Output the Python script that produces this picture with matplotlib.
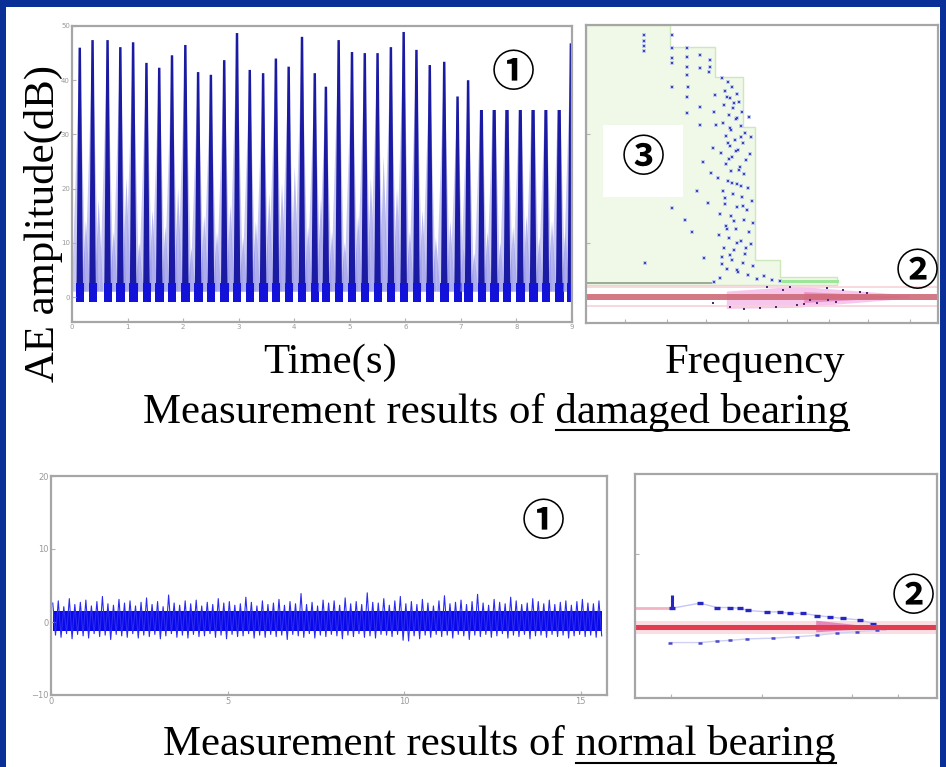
import numpy as np
import matplotlib
matplotlib.use('Agg')
import matplotlib.pyplot as plt
from matplotlib.patches import Rectangle, Polygon
from matplotlib.lines import Line2D

W, H = 946, 767

# damaged bearing, time signal: burst times (s), peak amplitude and lighter decay lobe (dB)
spike_t = [0.14, 0.37, 0.64, 0.87, 1.10, 1.34, 1.57, 1.80, 2.04, 2.27,
           2.50, 2.74, 2.97, 3.20, 3.44, 3.67, 3.90, 4.14, 4.37, 4.57,
           4.80, 5.04, 5.27, 5.50, 5.74, 5.97, 6.20, 6.44, 6.70, 6.94,
           7.13, 7.37, 7.60, 7.83, 8.07, 8.30, 8.53, 8.77, 8.98]
spike_h = [46.0, 47.4, 47.4, 46.1, 47.0, 43.2, 42.3, 44.6, 46.5, 41.5,
           41.0, 43.7, 48.7, 41.9, 41.3, 44.0, 42.5, 48.0, 41.3, 38.8,
           47.4, 45.2, 45.0, 45.0, 46.1, 48.9, 45.6, 42.8, 43.4, 37.0,
           40.0, 40.0, 42.0, 44.0, 41.0, 43.0, 40.0, 42.0, 46.8]
echo_h = [14, 18, 12, 22, 10, 16, 13, 20, 9, 15,
          12, 17, 11, 14, 19, 21, 24, 13, 18, 12,
          10, 15, 22, 26, 20, 12, 16, 11, 14, 9,
          8, 12, 10, 13, 15, 11, 14, 12, 16]

# damaged bearing, frequency plot: scattered AE hits
freq_x = [16.5, 16.5, 16.5, 16.6, 24.4, 24.4, 24.5, 24.3, 24.4,
          28.7, 28.8, 28.6, 28.7, 28.9, 28.7, 28.8, 32.4, 32.5, 32.3, 32.4,
          35.2, 35.3, 34.9, 36.6, 36.4, 36.8,
          38.6, 40.2, 41.5, 39.4, 42.8, 40.9, 43.6, 39.1, 41.8, 44.2,
          40.5, 42.6, 38.9, 43.9, 41.2, 45.1, 39.7, 42.3, 44.6, 40.8,
          43.2, 38.4, 41.6, 45.4, 39.9, 43.7, 41.1, 44.8,
          37.5, 40.3, 42.9, 46.1, 38.8, 41.7, 44.4, 47.2, 39.6, 43.0,
          45.7, 38.1, 41.2, 44.9, 47.5, 39.9, 42.6, 46.3, 37.8, 40.7,
          44.0, 46.9, 39.2, 42.1, 45.3, 38.5, 41.4, 44.6, 47.4, 40.0,
          43.3, 46.0, 38.0, 48.5,
          24.4, 16.8, 28.0, 30.2, 33.6, 34.7, 31.5, 35.5, 33.2, 36.0,
          46.3, 47.0, 46.5, 50.5, 52.8, 55.0, 36.5,
          40.0, 42.0, 43.0, 41.0, 44.0, 42.5, 40.5, 43.5, 41.5, 39.5,
          44.5, 42.0, 40.0, 43.0, 45.5, 41.0, 38.5, 42.8, 44.0, 40.2]
freq_y = [48.3, 47.2, 46.3, 45.4, 48.3, 45.9, 44.1, 43.2, 38.7,
          45.9, 44.3, 42.4, 41.0, 38.7, 36.9, 33.9, 44.6, 42.3, 35.1, 31.7,
          43.7, 42.4, 41.5, 37.3, 34.1, 31.7,
          40.4, 39.6, 38.8, 38.1, 37.5, 36.7, 36.0, 35.4, 34.8, 34.1,
          33.5, 32.9, 32.2, 31.6, 30.9, 30.3, 29.7, 29.0, 28.4, 27.8,
          27.1, 26.5, 25.9, 25.2, 24.6, 24.0, 23.3, 22.7,
          21.9, 21.4, 20.8, 20.2, 19.5, 19.0, 18.4, 17.8, 17.1, 16.6,
          16.0, 15.4, 14.9, 14.3, 13.7, 13.1, 12.6, 12.0, 11.4, 10.9,
          10.3, 9.7, 9.1, 8.6, 8.0, 7.4, 6.9, 6.3, 5.7, 5.1,
          4.6, 4.0, 3.5, 3.3,
          16.4, 6.3, 14.2, 12.0, 7.2, 17.3, 19.6, 22.8, 25.0, 27.5,
          33.2, 29.6, 26.3, 3.9, 3.2, 2.9, 2.8,
          37.0, 35.8, 33.0, 31.2, 29.5, 27.0, 25.5, 23.5, 21.0, 18.2,
          16.8, 14.0, 12.5, 10.0, 9.0, 7.8, 6.0, 5.0, 20.5, 28.5]
wedge_dot_x = [36.0, 40.9, 49.4, 59.9, 63.6, 65.6, 68.8, 51.4, 56.0,
               58.0, 68.5, 73.0, 77.8, 79.8, 45.0, 54.0, 62.0, 71.0]
wedge_dot_y = [-1.1, -1.8, -2.0, -1.5, -0.6, -1.1, -0.6, 1.8, 1.3,
               1.8, 1.7, 1.3, 0.9, 0.7, -2.3, -1.9, -1.3, -0.9]
zone_x = [0, 23.9, 23.9, 36.6, 36.6, 44.6, 44.6, 48.0, 48.0, 55.1, 55.1, 71.3, 71.3, 0]
zone_y = [50.2, 50.2, 46.1, 46.1, 40.6, 40.6, 31.4, 31.4, 6.8, 6.8, 3.7, 3.7, 2.2, 2.2]
wedge_x = [40, 60, 92, 92, 60, 40]
wedge_y = [1.0, 1.9, 0.3, -0.3, -2.0, -2.2]

# normal bearing, time signal envelope (dB)
noise_top = [2.6, 2.9, 2.1, 3.2, 2.4, 2.7, 3.0, 2.2, 2.8, 3.5,
             2.5, 2.3, 3.1, 2.6, 2.9, 2.2, 2.7, 3.3, 2.4, 2.8,
             2.1, 3.7, 2.6, 2.3, 2.9, 2.5, 3.0, 2.2, 2.7, 2.4,
             3.2, 2.6, 2.8, 2.3, 2.5, 3.4, 2.7, 2.2, 2.9, 2.4,
             2.6, 3.1, 2.3, 2.8, 2.5, 3.9, 2.4, 2.7, 2.2, 3.0,
             2.6, 2.9, 2.3, 3.3, 2.5, 2.8, 2.4, 4.0, 2.7, 2.6,
             3.2, 2.3, 2.9, 3.5, 2.5, 2.8, 2.4, 3.1, 2.6, 2.2,
             2.9, 3.6, 2.5, 2.7, 3.0, 2.4, 2.8, 3.8, 2.6, 2.3,
             3.1, 2.7, 2.5, 3.4, 2.9, 2.4, 2.6, 3.2, 2.8, 2.5,
             3.0, 2.4, 2.7, 2.9, 2.3, 2.8, 3.1, 2.6, 2.5, 2.9]
noise_bot = [-1.8, -2.1, -1.6, -2.3, -1.7, -1.9, -2.2, -1.6, -2.0, -1.8,
             -2.4, -1.7, -1.9, -2.1, -1.6, -2.2, -1.8, -2.0, -1.7, -2.3,
             -1.9, -1.6, -2.1, -1.8, -2.2, -1.7, -2.0, -1.9, -1.6, -2.1,
             -1.8, -2.3, -1.7, -2.0, -1.9, -1.6, -2.2, -1.8, -2.1, -1.7,
             -2.0, -1.8, -2.4, -1.7, -1.9, -2.1, -1.6, -2.2, -1.8, -2.0,
             -1.7, -1.9, -2.3, -1.8, -2.0, -1.6, -2.1, -1.9, -2.2, -1.7,
             -1.8, -2.0, -1.7, -2.5, -2.6, -1.9, -2.3, -1.8, -2.1, -1.7,
             -2.0, -1.8, -2.2, -1.7, -1.9, -2.4, -1.8, -2.0, -1.7, -2.1,
             -1.9, -1.6, -2.2, -1.8, -2.0, -1.7, -2.3, -1.9, -1.8, -2.1,
             -1.7, -2.0, -1.8, -2.2, -1.9, -1.7, -2.0, -1.8, -2.1, -1.9]

# normal bearing, frequency plot: upper and lower arms
arm_up_x = [12.2, 21.5, 27.2, 31.5, 34.8, 37.4, 43.7, 48.0, 51.3, 55.6,
            60.3, 64.6, 68.9, 74.5, 78.8, 82.1]
arm_up_y = [2.6, 3.3, 2.7, 2.7, 2.6, 2.3, 2.1, 2.1, 1.9, 1.9,
            1.6, 1.4, 1.2, 1.0, 0.5, -0.1]
arm_lo_x = [11.6, 21.5, 27.2, 31.5, 37.1, 45.7, 53.6, 60.3, 66.9, 73.5, 80.1]
arm_lo_y = [-2.1, -2.1, -1.9, -1.8, -1.6, -1.5, -1.3, -1.1, -0.8, -0.6, -0.4]

SERIF = 'Liberation Serif'
CIRC = ['Noto Sans CJK JP', 'DejaVu Sans']
FS = 30.8

fig = plt.figure(figsize=(W / 100, H / 100), dpi=100)
fig.patch.set_facecolor('#0a2f96')
fig.add_artist(Rectangle((6 / W, 0), 934 / W, 1 - 7 / H, transform=fig.transFigure,
                         facecolor='white', edgecolor='none', zorder=-5))


def px_axes(l, t, r, b):
    ax = fig.add_axes([l / W, 1 - b / H, (r - l) / W, (b - t) / H])
    ax.set_zorder(1)
    for sp in ax.spines.values():
        sp.set_color('#a6a6a6')
        sp.set_linewidth(1.6)
    ax.tick_params(direction='in', length=3, width=0.8, colors='#b4b4b4',
                   labelsize=5, pad=1.5, labelcolor='#9a9a9a')
    return ax


def fx(x):
    return x / W


def fy(y):
    return 1 - y / H


# top left: damaged bearing time signal
ax1 = px_axes(72, 26, 572, 322)
ax1.set_xlim(0, 9)
ax1.set_ylim(-4.6, 50)
ax1.set_xticks(range(10))
ax1.set_yticks([0, 10, 20, 30, 40, 50])
for t, h, e in zip(spike_t, spike_h, echo_h):
    ax1.fill([t - 0.14, t, t + 0.11], [1, h, 1], color='#a6a6ee', alpha=0.6, lw=0)
    ax1.fill([t + 0.04, t + 0.11, t + 0.19], [1, e, 1], color='#8080e4', alpha=0.55, lw=0)
    ax1.fill([t - 0.06, t - 0.022, t + 0.022, t + 0.06], [0, h, h, 0],
             color='#1a1aa2', lw=0)
    ax1.add_patch(Rectangle((t - 0.07, -1.0), 0.15, 3.6, color='#1212d8', lw=0))
ax1.add_patch(Rectangle((7.27, 34.5), 1.6, 14.2, facecolor='white', edgecolor='none', zorder=5))

# top right: damaged bearing frequency plot
ax2 = px_axes(586, 25, 938, 323)
ax2.set_xlim(0, 100)
ax2.set_ylim(-4.8, 50.2)
ax2.set_xticks([11, 23, 34, 46, 57, 69, 80, 92])
ax2.set_yticks([10, 30])
ax2.set_xticklabels([])
ax2.set_yticklabels([])
ax2.add_patch(Polygon(list(zip(zone_x, zone_y)), closed=True, facecolor='#f0f8e8',
                      edgecolor='#cde8bb', lw=1.0))
ax2.plot([0, 36.6], [2.6, 2.6], color='#96a48e', lw=1.3)
ax2.plot([55.1, 71.3], [3.0, 3.0], color='#9ee69a', lw=2.2)
ax2.axhline(1.8, color='#f7d2da', lw=1.2)
ax2.axhline(-1.6, color='#f7d2da', lw=1.2)
ax2.add_patch(Polygon(list(zip(wedge_x, wedge_y)), closed=True, facecolor='#f4b4e6',
                      edgecolor='none', alpha=0.75))
ax2.fill([62, 92, 62], [0.9, 0.0, -1.1], color='#e0589e', alpha=0.5, lw=0)
ax2.axhline(0, color='#cf6a78', lw=4.3, alpha=0.9)
ax2.scatter(freq_x, freq_y, s=10, marker='s', color='#c0caf2', lw=0, zorder=3)
ax2.scatter(freq_x, freq_y, s=3, marker='s', color='#3a4aae', lw=0, zorder=4)
ax2.scatter(wedge_dot_x, wedge_dot_y, s=3, marker='s', color='#4a2a7a', lw=0, zorder=4)
ax2.add_patch(Rectangle((4.8, 18.5), 22.8, 13.2, facecolor='white', edgecolor='none', zorder=5))

# bottom left: normal bearing time signal
ax3 = px_axes(51, 476, 607, 695)
ax3.set_xlim(0, 15.75)
ax3.set_ylim(-10, 20)
ax3.set_xticks([0, 5, 10, 15])
ax3.set_yticks([-10, 0, 10, 20])
ax3.tick_params(labelsize=6)
zig = np.ravel(np.column_stack([noise_top, noise_bot]))
t_zig = np.linspace(0.05, 15.6, len(zig))
ax3.fill_between([0.05, 15.6], -1.3, 1.5, color='#0808ea', lw=0)
ax3.plot(t_zig, zig, color='#2a2af0', lw=0.8)

# bottom right: normal bearing frequency plot
ax4 = px_axes(635, 474, 937, 698)
ax4.set_xlim(0, 100)
ax4.set_ylim(-9.7, 21)
ax4.set_xticks([12, 42, 72, 87])
ax4.set_yticks([10])
ax4.set_xticklabels([])
ax4.set_yticklabels([])
ax4.axhspan(-0.9, 0.9, color='#fbdde2', lw=0)
ax4.plot([0, 11.6], [2.7, 2.7], color='#f3b3c3', lw=2)
ax4.plot(arm_up_x, arm_up_y, color='#c6c6f4', lw=1)
ax4.plot(arm_lo_x, arm_lo_y, color='#d0d0f6', lw=1)
ax4.plot(arm_up_x, arm_up_y, ls='none', marker='_', ms=4, mew=2.4, color='#2626c4')
ax4.plot(arm_lo_x, arm_lo_y, ls='none', marker='_', ms=3, mew=1.8, color='#4a4ac8')
ax4.vlines([arm_up_x[0]], 2.6, 4.4, color='#2626c4', lw=2.2)
ax4.fill([60, 82, 60], [0.9, -0.1, -0.7], color='#d02088', alpha=0.45, lw=0)
ax4.axhline(0, color='#e23c50', lw=3.6)

# labels
fig.text(fx(43), fy(224), 'AE amplitude(dB)', rotation=90, ha='center', va='center',
         fontsize=FS, family=SERIF)
fig.text(fx(330), fy(363), 'Time(s)', ha='center', va='center', fontsize=FS, family=SERIF)
fig.text(fx(755), fy(363), 'Frequency', ha='center', va='center', fontsize=FS, family=SERIF)

cap1 = fig.text(fx(143), fy(412), 'Measurement results of damaged bearing', ha='left',
                va='center', fontsize=FS, family=SERIF)
cap2 = fig.text(fx(163), fy(745), 'Measurement results of normal bearing', ha='left',
                va='center', fontsize=FS, family=SERIF)

for x, y, s in [(513, 73, '①'), (643, 158, '③'), (917, 272, '②'),
                (543, 522, '①'), (913, 597, '②')]:
    fig.text(fx(x), fy(y), s, ha='center', va='center', fontsize=31, family=CIRC,
             fontweight='bold', zorder=10)

# underline the bearing condition words
renderer = fig.canvas.get_renderer()
for cap, word, uy in [(cap1, 'damaged bearing', 430), (cap2, 'normal bearing', 763)]:
    bb = cap.get_window_extent(renderer)
    tmp = fig.text(0, 0, word, fontsize=FS, family=SERIF)
    wb = tmp.get_window_extent(renderer)
    tmp.remove()
    x0 = bb.x1 - wb.width
    fig.add_artist(Line2D([x0 / W, bb.x1 / W], [fy(uy), fy(uy)], transform=fig.transFigure,
                          color='black', lw=1.5))

fig.savefig('out.png', dpi=100)
